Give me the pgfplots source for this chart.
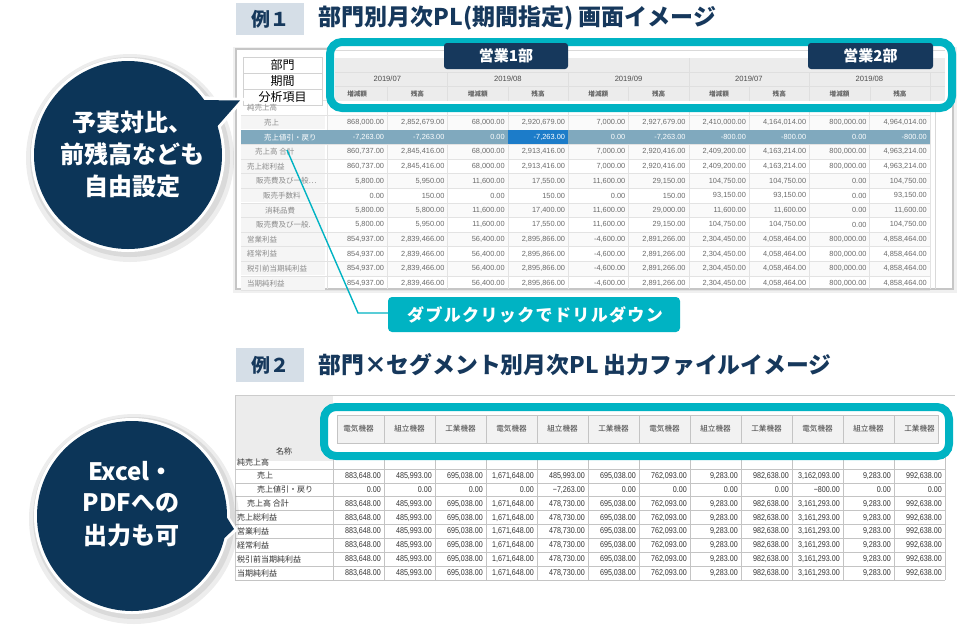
\documentclass[border=0pt]{standalone}
\usepackage{fontspec}
\usepackage{pgfplots}
\usepackage{pgfplotstable}
\pgfplotsset{compat=1.18}
\setmainfont{Noto Sans CJK JP}
\newfontfamily\jpspaced[LetterSpace=8]{Noto Sans CJK JP}
\newfontfamily\numfont{Liberation Sans}
\newfontfamily\narrowfont[FakeStretch=0.85]{Liberation Sans}
\definecolor{navy}{HTML}{16385C}
\definecolor{bubble}{HTML}{0C3558}
\definecolor{tealc}{HTML}{00B3C3}
\definecolor{titlebox}{HTML}{D5DEE7}
\definecolor{hdrgray}{HTML}{ECECEC}
\definecolor{numgray}{HTML}{6B6B6B}
\definecolor{labgray}{HTML}{8C8C8C}
\definecolor{hlrow}{HTML}{80A9BE}
\definecolor{hlcell}{HTML}{1C7CC9}
\definecolor{gridc}{HTML}{E3E3E3}
\definecolor{bgrid}{HTML}{C4C4C4}

% top table (rows except the highlighted one)
\pgfplotstableread{
y c1 c2 c3 c4 c5 c6 c7 c8 c9 c10
122.6 868,000.00 2,852,679.00 68,000.00 2,920,679.00 7,000.00 2,927,679.00 2,410,000.00 4,164,014.00 800,000.00 4,964,014.00
151.8 860,737.00 2,845,416.00 68,000.00 2,913,416.00 7,000.00 2,920,416.00 2,409,200.00 4,163,214.00 800,000.00 4,963,214.00
166.4 860,737.00 2,845,416.00 68,000.00 2,913,416.00 7,000.00 2,920,416.00 2,409,200.00 4,163,214.00 800,000.00 4,963,214.00
181.0 5,800.00 5,950.00 11,600.00 17,550.00 11,600.00 29,150.00 104,750.00 104,750.00 0.00 104,750.00
195.6 0.00 150.00 0.00 150.00 0.00 150.00 93,150.00 93,150.00 0.00 93,150.00
210.2 5,800.00 5,800.00 11,600.00 17,400.00 11,600.00 29,000.00 11,600.00 11,600.00 0.00 11,600.00
224.8 5,800.00 5,950.00 11,600.00 17,550.00 11,600.00 29,150.00 104,750.00 104,750.00 0.00 104,750.00
239.4 854,937.00 2,839,466.00 56,400.00 2,895,866.00 -4,600.00 2,891,266.00 2,304,450.00 4,058,464.00 800,000.00 4,858,464.00
254.0 854,937.00 2,839,466.00 56,400.00 2,895,866.00 -4,600.00 2,891,266.00 2,304,450.00 4,058,464.00 800,000.00 4,858,464.00
268.6 854,937.00 2,839,466.00 56,400.00 2,895,866.00 -4,600.00 2,891,266.00 2,304,450.00 4,058,464.00 800,000.00 4,858,464.00
283.2 854,937.00 2,839,466.00 56,400.00 2,895,866.00 -4,600.00 2,891,266.00 2,304,450.00 4,058,464.00 800,000.00 4,858,464.00
}\toptab
\pgfplotstableread{
y c1 c2 c3 c4 c5 c6 c7 c8 c9 c10
137.2 -7,263.00 -7,263.00 0.00 -7,263.00 0.00 -7,263.00 -800.00 -800.00 0.00 -800.00
}\tophl
% bottom table
\pgfplotstableread{
y c1 c2 c3 c4 c5 c6 c7 c8 c9 c10 c11 c12
475.9 883,648.00 485,993.00 695,038.00 1,671,648.00 485,993.00 695,038.00 762,093.00 9,283.00 982,638.00 3,162,093.00 9,283.00 992,638.00
489.8 0.00 0.00 0.00 0.00 −7,263.00 0.00 0.00 0.00 0.00 −800.00 0.00 0.00
503.7 883,648.00 485,993.00 695,038.00 1,671,648.00 478,730.00 695,038.00 762,093.00 9,283.00 982,638.00 3,161,293.00 9,283.00 992,638.00
517.6 883,648.00 485,993.00 695,038.00 1,671,648.00 478,730.00 695,038.00 762,093.00 9,283.00 982,638.00 3,161,293.00 9,283.00 992,638.00
531.5 883,648.00 485,993.00 695,038.00 1,671,648.00 478,730.00 695,038.00 762,093.00 9,283.00 982,638.00 3,161,293.00 9,283.00 992,638.00
545.4 883,648.00 485,993.00 695,038.00 1,671,648.00 478,730.00 695,038.00 762,093.00 9,283.00 982,638.00 3,161,293.00 9,283.00 992,638.00
559.3 883,648.00 485,993.00 695,038.00 1,671,648.00 478,730.00 695,038.00 762,093.00 9,283.00 982,638.00 3,161,293.00 9,283.00 992,638.00
573.2 883,648.00 485,993.00 695,038.00 1,671,648.00 478,730.00 695,038.00 762,093.00 9,283.00 982,638.00 3,161,293.00 9,283.00 992,638.00
}\bottab

\begin{document}
\begin{tikzpicture}
\begin{axis}[x=1pt, y=1pt, xmin=0, xmax=968, ymin=0, ymax=630, y dir=reverse,
  hide axis, clip=false]
\path[fill=white] (0,0) rectangle (968,630);

% ---------- titles ----------
\fill[titlebox] (236,3) rectangle (304,35);
\node[text=navy, font=\bfseries\fontsize{19}{19}\selectfont] at (270,19) {例１};
\node[anchor=west, text=navy, font=\bfseries\fontsize{23}{23}\selectfont] at (315,18.5) {部門別月次PL(期間指定) 画面イメージ};
\fill[titlebox] (236,348) rectangle (304,382);
\node[text=navy, font=\bfseries\fontsize{19}{19}\selectfont] at (270,365) {例２};
\node[anchor=west, text=navy, font=\bfseries\fontsize{22.8}{23}\selectfont] at (315,364.5) {部門×セグメント別月次PL 出力ファイルイメージ};

% ---------- top table ----------
\fill[black, opacity=0.06] (233,47) rectangle (957,293);
\fill[white] (236,49) rectangle (953,289);
\draw[gray!45, line width=1.2pt] (236,49) rectangle (953,289);
\pgfplotsinvokeforeach{1,...,12}{
  \fill[gray!8] (241,{101.2+14.6*#1}) rectangle (325,{114.8+14.6*#1});
}
\pgfplotsinvokeforeach{1,3,5,7,9,11}{
  \fill[gray!4] (327,{100.7+14.6*#1}) rectangle (930,{115.3+14.6*#1});
}
\pgfplotsinvokeforeach{0,...,13}{
  \draw[gridc, line width=0.6pt] (241,{100.7+14.6*#1}) -- (930,{100.7+14.6*#1});
}
\pgfplotsinvokeforeach{0,...,10}{
  \draw[gridc, line width=0.6pt] ({327+60.3*#1},101) -- ({327+60.3*#1},289);
}
\draw[gray!30] (935,50) -- (935,289);
% highlighted row
\fill[hlrow] (241,130.3) rectangle (930,144.1);
\fill[hlcell] (507.9,130.3) rectangle (568.2,144.1);
% top-left header boxes
\draw[gray!35, fill=white] (243,57) rectangle (322,73);
\draw[gray!35, fill=white] (243,73) rectangle (322,89);
\draw[gray!35, fill=white] (243,89) rectangle (322,105);
\node[font=\fontsize{12}{12}\selectfont, text=black] at (282.5,65) {部門};
\node[font=\fontsize{12}{12}\selectfont, text=black] at (282.5,81) {期間};
\node[font=\fontsize{12}{12}\selectfont, text=black] at (282.5,97) {分析項目};
% row labels
\begin{scope}[every node/.style={anchor=west, inner sep=0pt, font=\fontsize{7.5}{8}\selectfont, text=labgray}]
\node at (247,108.0) {純売上高};
\node at (264,122.6) {売上};
\node[text=white] at (264,137.2) {売上値引・戻り};
\node at (255,151.8) {売上高 合計};
\node at (247,166.4) {売上総利益};
\node at (256,181.0) {販売費及び一般…};
\node at (263,195.6) {販売手数料};
\node at (265,210.2) {消耗品費};
\node at (256,224.8) {販売費及び一般.};
\node at (247,239.4) {営業利益};
\node at (247,254.0) {経常利益};
\node at (247,268.6) {税引前当期純利益};
\node at (247,283.2) {当期純利益};
\end{scope}

\pgfplotsinvokeforeach{1,...,10}{
  \addplot[draw=none, nodes near coords, point meta=explicit symbolic,
    nodes near coords style={anchor=east, inner sep=0pt,
      font=\numfont\fontsize{7.4}{8}\selectfont, text=numgray}]
    table[x expr={324+60.3*#1}, y=y, meta=c#1] {\toptab};
  \addplot[draw=none, nodes near coords, point meta=explicit symbolic,
    nodes near coords style={anchor=east, inner sep=0pt,
      font=\numfont\fontsize{7.4}{8}\selectfont, text=white}]
    table[x expr={324+60.3*#1}, y=y, meta=c#1] {\tophl};
}

% teal header box (top)
\fill[white] (330,42) rectangle (952,108);
\draw[gray!30] (335,50) -- (945,50);
\fill[hdrgray] (335,58) rectangle (945,101);
\draw[gray!25] (335,72) -- (945,72);
\draw[gray!25] (335,86) -- (945,86);
\draw[gray!25] (688.8,58) -- (688.8,72);
\pgfplotsinvokeforeach{0,2,4,6,8,10}{
  \draw[gray!25] ({327+60.3*#1},72) -- ({327+60.3*#1},101);
}
\pgfplotsinvokeforeach{1,3,5,7,9}{
  \draw[gray!25] ({327+60.3*#1},86) -- ({327+60.3*#1},101);
}
\begin{scope}[every node/.style={font=\numfont\fontsize{7.6}{8}\selectfont, text=black!70}]
\node at (387.3,79) {2019/07};
\node at (507.9,79) {2019/08};
\node at (628.5,79) {2019/09};
\node at (748.8,79) {2019/07};
\node at (869.4,79) {2019/08};
\end{scope}
\pgfplotsinvokeforeach{0,2,4,6,8}{
  \node[font=\bfseries\fontsize{6.6}{7}\selectfont, text=black!60] at ({357.15+60.3*#1},93.5) {増減額};
  \node[font=\bfseries\fontsize{6.6}{7}\selectfont, text=black!60] at ({417.45+60.3*#1},93.5) {残高};
}
\draw[tealc, line width=8pt, rounded corners=12pt] (330,42) rectangle (952,108);
\fill[navy, rounded corners=3pt] (444,43) rectangle (568,69);
\node[text=white, font=\bfseries\fontsize{15}{15}\selectfont] at (506,56) {営業1部};
\fill[navy, rounded corners=3pt] (808,43) rectangle (933,69);
\node[text=white, font=\bfseries\fontsize{15}{15}\selectfont] at (870.5,56) {営業2部};

% drill-down callout
\draw[tealc, line width=1.4pt] (287,150) -- (358,313) -- (388,313);
\fill[tealc, rounded corners=4pt] (388,297) rectangle (680,332);
\node[text=white, font=\jpspaced\bfseries\fontsize{17}{17}\selectfont] at (535,314.5) {ダブルクリックでドリルダウン};

% ---------- bottom table ----------
\fill[hdrgray] (235,395) rectangle (333,461);
\draw[gray!40] (235,395) -- (955,395);
\draw[gray!40] (235,395) -- (235,580);
\node[font=\fontsize{8}{8}\selectfont, text=black!80] at (284,451) {名称};
\pgfplotsinvokeforeach{0,...,8}{
  \draw[bgrid, line width=0.6pt] (235,{468.95+13.9*#1}) -- (945,{468.95+13.9*#1});
}
\pgfplotsinvokeforeach{0,...,12}{
  \draw[bgrid, line width=0.6pt] ({333+51*#1},455) -- ({333+51*#1},580.1);
}
\begin{scope}[every node/.style={anchor=west, inner sep=0pt, font=\fontsize{8}{8}\selectfont, text=black!80}]
\node at (237,462.0) {純売上高};
\node at (257,475.9) {売上};
\node at (257,489.8) {売上値引・戻り};
\node at (247,503.7) {売上高 合計};
\node at (237,517.6) {売上総利益};
\node at (237,531.5) {営業利益};
\node at (237,545.4) {経常利益};
\node at (237,559.3) {税引前当期純利益};
\node at (237,573.2) {当期純利益};
\end{scope}
\pgfplotsinvokeforeach{1,...,12}{
  \addplot[draw=none, nodes near coords, point meta=explicit symbolic,
    nodes near coords style={anchor=east, inner sep=0pt,
      font=\narrowfont\fontsize{8.4}{9}\selectfont, text=black!80}]
    table[x expr={330+51*#1}, y=y, meta=c#1] {\bottab};
}
% teal header box (bottom)
\fill[white] (324,407) rectangle (949,456);
\fill[hdrgray!70] (337,415) rectangle (938,443);
\draw[bgrid] (337,415) rectangle (938,443);
\pgfplotsinvokeforeach{1,...,11}{
  \draw[bgrid] ({333+51*#1},415) -- ({333+51*#1},443);
}
\pgfplotsinvokeforeach{0,3,6,9}{
  \node[font=\fontsize{7.6}{8}\selectfont, text=black!75] at ({358.5+51*#1},429) {電気機器};
  \node[font=\fontsize{7.6}{8}\selectfont, text=black!75] at ({409.5+51*#1},429) {組立機器};
  \node[font=\fontsize{7.6}{8}\selectfont, text=black!75] at ({460.5+51*#1},429) {工業機器};
}
\draw[tealc, line width=8pt, rounded corners=12pt] (324,407) rectangle (949,456);

% ---------- bubbles ----------
\fill[black, opacity=0.07] (130,158) circle[radius=104pt];
\fill[black, opacity=0.08] (130,157) circle[radius=100pt];
\fill[white] (128,155) circle[radius=97pt];
\fill[white] (196,96) -- (246,98) -- (213,136) -- cycle;
\fill[bubble] (128,155) circle[radius=94pt];
\fill[bubble] (198,100) -- (240,100.5) -- (214,130) -- cycle;
\node[text=white, font=\bfseries\fontsize{24}{24}\selectfont] at (132,122) {予実対比、};
\node[text=white, font=\bfseries\fontsize{24}{24}\selectfont] at (132,154) {前残高なども};
\node[text=white, font=\bfseries\fontsize{24}{24}\selectfont] at (132,186) {自由設定};

\fill[black, opacity=0.07] (134,519) circle[radius=105pt];
\fill[black, opacity=0.08] (134,518) circle[radius=101pt];
\fill[white] (132,516) circle[radius=98pt];
\fill[white] (220,503) -- (238,530) -- (215,550) -- cycle;
\fill[bubble] (132,516) circle[radius=95pt];
\fill[bubble] (221,508) -- (234,529) -- (217,545) -- cycle;
\node[text=white, font=\bfseries\fontsize{24}{24}\selectfont] at (131,471) {Excel・};
\node[text=white, font=\bfseries\fontsize{24}{24}\selectfont] at (131,503) {PDFへの};
\node[text=white, font=\bfseries\fontsize{24}{24}\selectfont] at (131,535) {出力も可};
\end{axis}
\end{tikzpicture}
\end{document}
